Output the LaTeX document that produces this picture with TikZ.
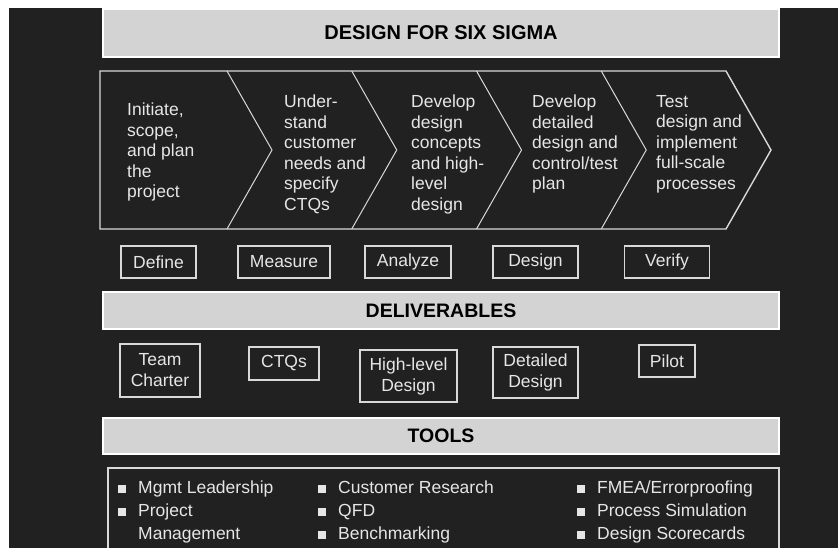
\documentclass[tikz,border=0pt]{standalone}
\usepackage{fontspec}
\setmainfont{Liberation Sans}
\definecolor{fondo}{HTML}{212121}
\definecolor{barra}{HTML}{D3D3D3}
\definecolor{linea}{HTML}{D9D9D9}
\definecolor{tinta}{HTML}{E6E6E6}
\newcommand{\vineta}{\makebox[20pt][l]{\rule{8pt}{8pt}}}
\begin{document}
\begin{tikzpicture}[x=1pt,y=-1pt,
    titulo/.style={draw=white,line width=1.5pt,fill=barra,text=black,inner sep=0pt,
        minimum width=676pt,font=\fontsize{19.5}{23}\selectfont\bfseries},
    fase/.style={draw=linea,line width=1.3pt,text=tinta,inner sep=0pt,
        minimum height=32pt,font=\fontsize{17.5}{21}\selectfont},
    entrega/.style={fase,align=center},
    paso/.style={text=tinta,inner sep=0pt,anchor=north west,align=left,
        font=\fontsize{17.5}{20.5}\selectfont},
    herramienta/.style={text=tinta,inner sep=0pt,anchor=base west,
        font=\fontsize{17.5}{21}\selectfont}]
    \fill[white] (0,0) rectangle (838,548);
    \fill[fondo] (9,8) rectangle (838,548);
    \useasboundingbox (0,0) rectangle (838,548);
    % Barras de encabezado
    \node[titulo,minimum height=48pt,font=\fontsize{20}{24}\selectfont\bfseries] (dfss) at (441,33) {DESIGN FOR SIX SIGMA};
    \node[titulo,minimum height=37pt] (entregables) at (441,310.5) {DELIVERABLES};
    \node[titulo,minimum height=36pt] (herramientas) at (441,436) {TOOLS};
    % Flechas de las etapas
    \draw[linea,line width=1.4pt] (100,71) -- (726,71) -- (771,150) -- (726,229) -- (100,229) -- cycle;
    \foreach \x in {227,351.75,476.5,601.25}
        \draw[linea,line width=1pt] (\x,71) -- (\x+45,150) -- (\x,229);
    \node[paso] (iniciar) at (127,103) {Initiate,\\scope,\\and plan\\the\\project};
    \node[paso] (entender) at (284,95) {Under-\\stand\\customer\\needs and\\specify\\CTQs};
    \node[paso] (concepto) at (411,95) {Develop\\design\\concepts\\and high-\\level\\design};
    \node[paso] (detalle) at (532,95) {Develop\\detailed\\design and\\control/test\\plan};
    \node[paso] (probar) at (656,95) {Test\\design and\\implement\\full-scale\\processes};
    % Fases
    \node[fase,minimum width=75pt] (define) at (158.5,262) {Define};
    \node[fase,minimum width=92pt] (measure) at (284,262) {Measure};
    \node[fase,minimum width=86pt] (analyze) at (408,262) {Analyze};
    \node[fase,minimum width=85pt] (design) at (535.5,262) {Design};
    \node[fase,minimum width=85pt] (verify) at (667,262) {Verify};
    % Entregables
    \node[entrega,minimum width=80pt,minimum height=53pt] (carta) at (160,370.5) {Team\\Charter};
    \node[entrega,minimum width=70pt,minimum height=33pt] (ctqs) at (284,363.5) {CTQs};
    \node[entrega,minimum width=97pt,minimum height=52pt] (alto) at (408.5,376) {High-level\\Design};
    \node[entrega,minimum width=85pt,minimum height=51pt] (detallado) at (535.5,372.5) {Detailed\\Design};
    \node[entrega,minimum width=56pt,minimum height=32pt] (piloto) at (667,361) {Pilot};
    % Caja de herramientas, cortada abajo
    \draw[linea,line width=1.3pt] (108,548) -- (108,468) -- (779,468) -- (779,548);
    \node[herramienta] (h1) at (118,493) {\vineta Mgmt Leadership};
    \node[herramienta] (h2) at (118,516) {\vineta Project};
    \node[herramienta] (h3) at (138,539) {Management};
    \node[herramienta] (h4) at (318,493) {\vineta Customer Research};
    \node[herramienta] (h5) at (318,516) {\vineta QFD};
    \node[herramienta] (h6) at (318,539) {\vineta Benchmarking};
    \node[herramienta] (h7) at (577,493) {\vineta FMEA/Errorproofing};
    \node[herramienta] (h8) at (577,516) {\vineta Process Simulation};
    \node[herramienta] (h9) at (577,539) {\vineta Design Scorecards};
\end{tikzpicture}
\end{document}
